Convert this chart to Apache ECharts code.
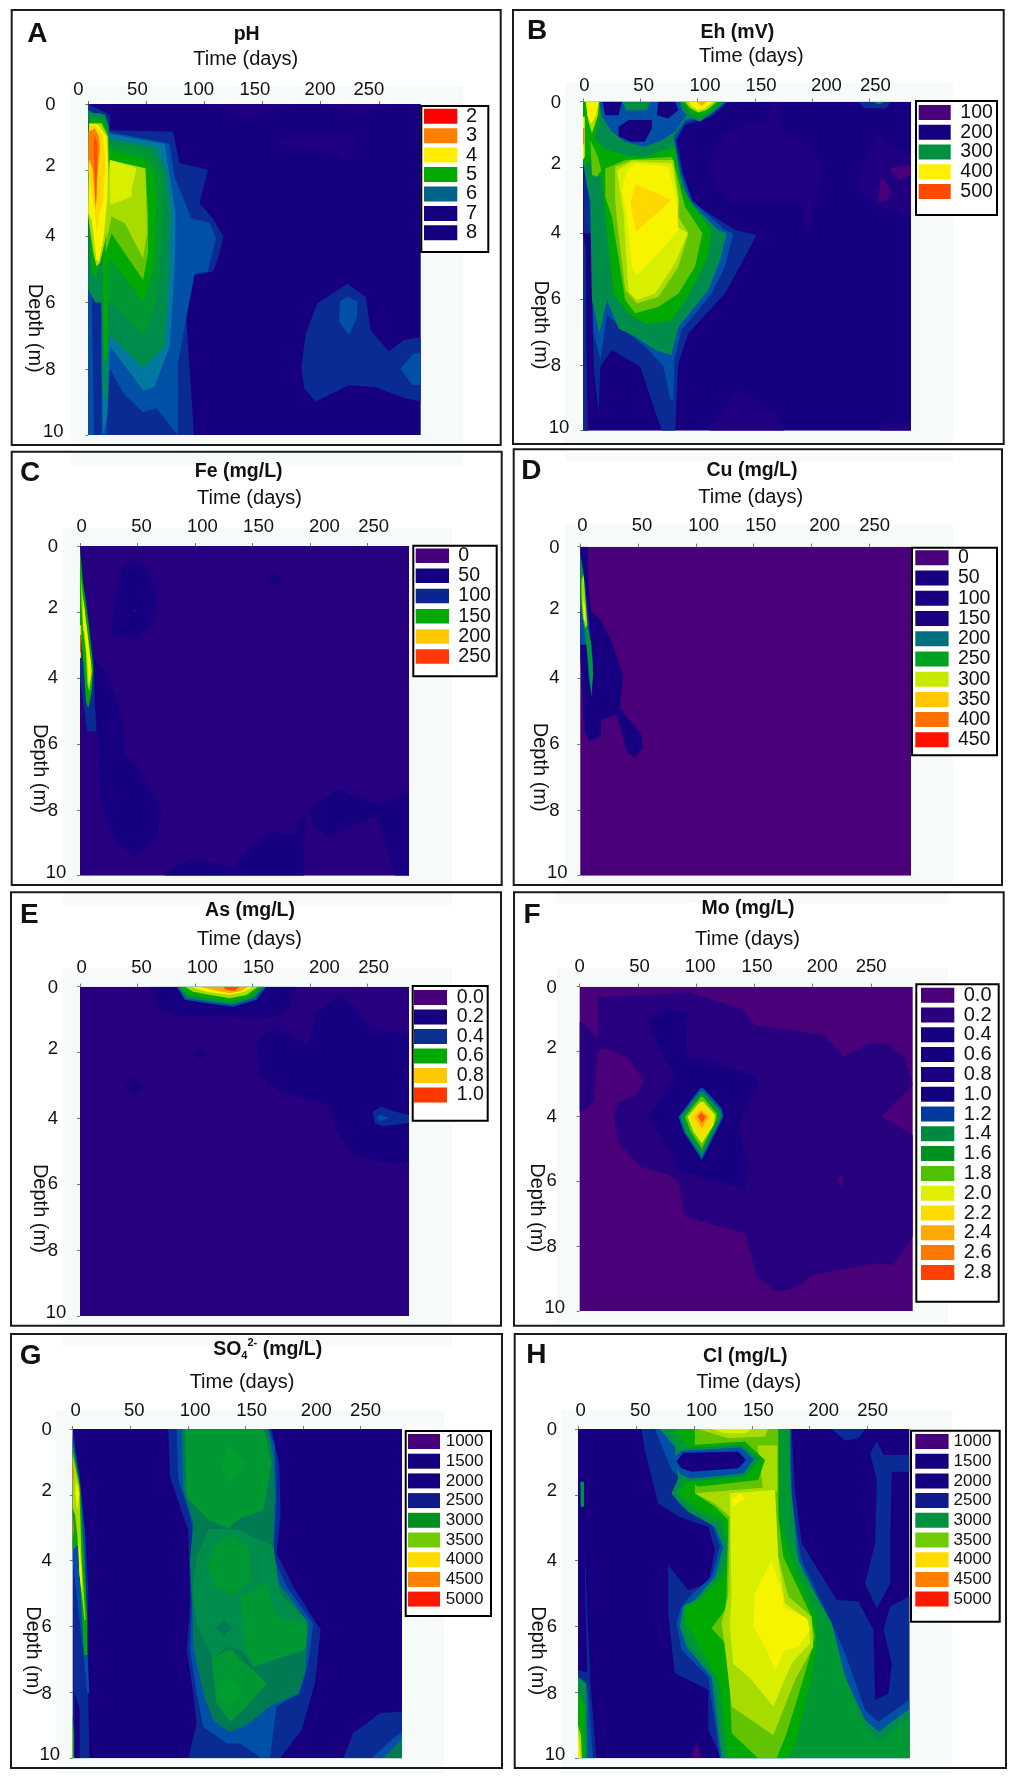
<!DOCTYPE html>
<html><head><meta charset="utf-8">
<script src="https://cdn.jsdelivr.net/npm/echarts@6/dist/echarts.min.js"></script>
<style>html,body{margin:0;padding:0;background:#fff}#c{width:1024px;height:1785px}</style>
</head><body><div id="c"></div>
<script>
// ---------- shared axis values ----------
const timeTicks = [0, 50, 100, 150, 200, 250];
const depthTicks = [0, 2, 4, 6, 8, 10];
const timeMax = 286;
const whole = [[0,0],[286,0],[286,10],[0,10]];

// ---------- legend labels ----------
const phLegend = ['2','3','4','5','6','7','8'];
const ehLegend = ['100','200','300','400','500'];
const feLegend = ['0','50','100','150','200','250'];
const cuLegend = ['0','50','100','150','200','250','300','350','400','450'];
const asLegend = ['0.0','0.2','0.4','0.6','0.8','1.0'];
const moLegend = ['0.0','0.2','0.4','0.6','0.8','1.0','1.2','1.4','1.6','1.8','2.0','2.2','2.4','2.6','2.8'];
const so4Legend = ['1000','1500','2000','2500','3000','3500','4000','4500','5000'];
const clLegend = ['1000','1500','2000','2500','3000','3500','4000','4500','5000'];

// ---------- contour bands: [palette key, polygon, polygon...], each polygon as [time (days), depth (m)], outermost first ----------
const phContours = [
 ['navy', whole],
 ['haze', [[107,0],[136,.45],[170,.1],[172,0]], [[205,0],[225,.3],[240,.3],[255,0]], [[160,1.2],[175,.9],[230,.9],[225,1.7],[200,1.4]]],
 ['deep', [[0,0],[18.6,.33],[18.6,.79],[72.9,.84],[78.6,1.79],[102.9,1.99],[95.7,3],[107,3.45],[116.3,4],[111.4,4.71],[107,5.07],[91.4,5.17],[84.3,6.42],[87.1,7.94],[90.9,10],[0,10]],
   [[197.1,6.02],[222.9,5.44],[238.6,5.82],[242.9,6.83],[258.6,7.48],[271.4,7.13],[286,7.05],[286,8.99],[272.9,8.89],[247.1,8.56],[224.3,8.49],[195.7,8.99],[185.7,8.59],[183.4,7.94],[187.1,6.93]]],
 ['blue', [[17.1,.84],[70,1.19],[74.3,2.2],[88.6,3.45],[104.3,3.59],[110,4.06],[105.7,4.61],[102.9,5.07],[91.4,5.12],[77.1,7.83],[77.1,10],[58.6,9.19],[47.1,9.32],[30,8.74],[18.6,7.99],[15.7,10],[11.4,10],[11.4,3.91]],
   [[216.3,5.97],[222.9,5.82],[231.4,5.97],[231.4,6.43],[224.3,6.98],[215.7,6.58]], [[268.6,7.99],[280,7.53],[286,7.53],[286,8.49],[278.6,8.49]], [[0,4.9],[3,5.8],[5,10],[0,10]]],
 ['teal', [[17.1,.89],[65.7,1.21],[70.6,2.3],[74.9,3.3],[74.3,4.91],[70,7.33],[57.1,8.54],[47.1,8.66],[38.6,8.24],[18.6,7.33],[16.3,9.35],[12.9,10],[11.4,7.9],[11.4,3.91]]],
 ['sea', [[17.1,1.04],[57.1,1.29],[67.1,1.99],[70.9,3.3],[69.4,5.12],[65.7,7.33],[47.1,7.99],[20,7.03],[17.1,7.13],[15.7,8.74],[12.9,8.74],[11.4,4.91]],
   [[0,.18],[4.3,.28],[10,.28],[14.3,.33],[17.7,.68],[17.7,2.5],[17.1,6.93],[16.3,8.9],[13,8.9],[11.4,6],[6,6],[3,5.8],[0,5.6]]],
 ['forest', [[17.1,1.19],[52.9,1.44],[62.9,2.09],[64.9,3.3],[62,5.02],[56.3,6.32],[47.1,6.98],[20,5.97],[17.1,5.97],[14.3,6.93],[12.9,4.91]]],
 ['green', [[17.1,1.39],[47.1,1.64],[57.1,2.15],[58.6,3.3],[56.3,4.91],[47.1,5.97],[20,4.71],[17.1,4.81],[14.3,5.92],[12.9,3.91]],
   [[1.4,.44],[12.9,.48],[17.1,.89],[17.1,3.1],[16.3,7.73],[13.4,7.73],[12.3,4.21],[7.1,5.22],[2.9,5.12],[0,3.3]]],
 ['leaf', [[18.6,1.69],[49.1,1.96],[51.4,3.3],[51.4,4.51],[47.1,5.32],[20,3.91],[15,4.5],[14.3,3]]],
 ['lime', [[18.6,1.69],[49.1,1.94],[50.6,3.91],[47.1,4.66],[31.4,3.6],[20,3.4],[15.7,4.11],[14.3,3]],
   [[.9,.58],[11.4,.58],[17.1,.99],[18,3.1],[14.3,4.16],[10,4.8],[7.1,4.9],[4.3,4.5],[0,3.4]]],
 ['chart', [[18.6,1.69],[41.4,1.94],[37.1,2.6],[37.1,2.8],[18.6,3.05]]],
 ['yellow', [[.9,.6],[8.6,.63],[15.7,.99],[17.1,1.89],[16.3,2.9],[12.9,4.1],[9.1,4.76],[7.1,4.71],[2.9,3.5],[0,3.3]]],
 ['gold', [[.9,.63],[7.1,.68],[12.9,.99],[14.9,1.69],[12.9,2.9],[9.4,3.3],[7.1,3.9],[5.7,3.3],[2,2.5],[0,2]]],
 ['orange', [[0,.84],[5.7,.74],[9,.99],[10,1.29],[7.5,2.3],[7,3],[6,3],[4,2],[0,1.6]]],
 ['flame', [[5.7,.95],[7.8,1.2],[7.2,2.4],[6.4,3.2],[5,1.7],[4.6,1.2]]]
];
const ehContours = [
 ['navy', whole],
 ['haze', [[107.8,1.98],[123.8,.96],[147,.61],[161.4,.61],[162.9,0],[170.1,0],[173,.86],[199.1,1.37],[209.3,2.08],[200.6,3.19],[197.7,4],[194.8,4],[190.4,3.09],[129.6,3.09],[118,2.58]],
   [[241.6,2.08],[257.1,.96],[265.8,1.27],[286,1.67],[286,3.5],[257.1,3.19],[239.9,2.64]], [[110.7,10],[135.4,8.76],[167.2,9.48],[175.9,10]], [[258.6,10],[258.6,9.83],[286,9.73],[286,10]]],
 ['violet', [[267.2,2.03],[286,1.93],[286,2.23],[276,2.38]], [[260,2.28],[268.7,2.68],[265.8,2.99],[257.1,3.04]], [[2,7.04],[5,10],[.6,10]]],
 ['deep', [[126.7,0],[112.2,.46],[89,.71],[81.7,1.17],[87.5,2.18],[96.2,3.09],[132.5,3.9],[151.3,4.05],[138.3,4.91],[123.8,5.83],[91.9,7.04],[83.2,7.95],[80.3,10],[68.7,10],[49.9,8.05],[25.2,7.55],[15.1,8.05],[13.6,9.47],[9.3,8.05],[6.4,4],[.6,4],[0,0]],
   [[239.7,0],[268.7,0],[264.3,.2],[245.2,.2]]],
 ['blue', [[125.2,0],[109.3,.46],[89,.61],[80.3,1.17],[86.1,2.18],[94.8,2.99],[123.8,3.9],[131,4],[123.8,5.02],[112.2,5.83],[86.1,6.94],[79.7,7.85],[78.8,9.07],[76.2,9.07],[70.1,8.05],[54.2,7.45],[20.9,6.48],[15.1,7.85],[9.3,7.04],[6.4,3.5],[0,0]]],
 ['sea', [[123.8,0],[112.2,.35],[89,.56],[78.8,1.06],[84.6,2.18],[91.9,2.99],[118,3.9],[125.2,4],[119.4,4.81],[109.3,5.72],[83.2,6.84],[76.8,7.7],[62.9,7.55],[45.5,7.14],[31,6.89],[20.9,6.03],[14.2,7.04],[7.8,6.03],[6.4,3],[3,2.5],[0,1.8],[0,0]],
   [[252.8,0],[262.9,0],[258.6,.08]]],
 ['green', [[9.3,1.06],[18,1.42],[36.8,1.62],[54.2,1.67],[74.5,1.42],[80.3,1.37],[86.1,2.58],[94.8,3.09],[112.2,3.95],[107.8,4.81],[91.9,5.88],[77.4,6.64],[54.2,6.76],[39.7,6.43],[26.7,5.83],[19.4,3.5],[16.5,2.28],[9.3,2.18]],
   [[0,0],[14.2,0],[15.1,.41],[10.7,1.06],[6.4,1.77],[.6,1.98]]],
 ['leaf', [[19.4,2.03],[36.8,1.77],[77.4,1.67],[81.7,2.18],[89,3.19],[104.1,4],[97.7,5.02],[83.2,5.83],[65.8,6.23],[45.5,6.43],[36.8,6.03],[25.2,3.5],[19.4,2.89]],
   [[6.4,1.17],[13,1.67],[15.9,2.08],[12.2,2.28],[7.8,2.23]]],
 ['lime', [[28.1,1.98],[42.6,1.77],[78.8,1.77],[83.2,2.89],[83.2,3.5],[91.9,4],[83.2,5.02],[65.8,5.93],[47,6.13],[36.8,5.72],[29.6,3.6],[28.1,2.99]],
   [[2.6,0],[14.2,0],[13,.41],[7.8,.96],[4.3,.56]]],
 ['chart', [[29.6,2.08],[42.6,1.82],[77.4,1.87],[83.2,2.99],[82.3,3.8],[91.3,4],[80.3,4.91],[62.9,5.83],[47,6.03],[39.7,5.78],[35.4,3.4]]],
 ['yellow', [[38.3,2.08],[47,1.87],[74.5,1.98],[81.7,3.09],[83.2,3.9],[65.8,4.61],[47,5.27],[42.6,5.02],[38.3,3.5],[33.9,2.68]],
   [[2.6,0],[13.6,0],[11.3,.41],[7.2,.68],[3.8,.41]], [[0,.46],[1.5,.46],[1.5,1.67],[0,1.77]]],
 ['gold', [[45.5,2.5],[77.4,2.99],[46.1,3.95],[41.2,3.09]]],
 ['orange', [[0,.8],[1.3,.8],[1.3,1.3],[0,1.3]]],
 ['blue', [[14.2,0],[85.8,0],[90.4,.41],[80.3,.91],[68.7,1.17],[52.8,1.37],[36.8,1.22],[25.2,.91],[16.5,.46]]],
 ['sea', [[33.9,0],[58.6,0],[55.7,.25],[38.3,.27]]],
 ['navy', [[17.1,0],[33.9,0],[31,.41],[19.4,.41]], [[65.8,0],[80.3,0],[83.2,.25],[74.5,.51],[64.3,.41]], [[31,.76],[39.9,.56],[60,.56],[60,.81],[53.8,1.22],[42.3,1.22],[31,1.06]]],
 ['deep', [[0,4],[2.5,4.5],[3.5,10],[0,10]]],
 ['sea', [[84.6,0],[122.3,0],[112.2,.35],[102,.61],[91.9,.46],[86.1,.25]]],
 ['green', [[86.7,0],[119.4,0],[109.3,.35],[102,.46],[93.3,.35]]],
 ['lime', [[89,0],[116.6,0],[107.8,.25],[100.6,.33],[93.3,.2]]],
 ['yellow', [[92.2,0],[113.6,0],[106.4,.2],[100.6,.25],[94.9,.15]]],
 ['amber', [[99.1,0],[107.8,0],[103.5,.13]]]
];
const feContours = [
 ['indigo', whole],
 ['navy', [[28.9,1.79],[36.2,.63],[46.3,.47],[57.9,.68],[66.6,1.29],[63.7,2.39],[46.3,2.8],[27.5,2.7]], [[162,1.03],[167.8,.8],[175.9,1.03],[167.8,1.23]],
   [[0,3],[11.6,3.4],[23.1,3.81],[34.7,4.92],[39.9,6.33],[55,6.94],[71,8.05],[66,8.86],[47.7,9.47],[30.4,8.96],[17.4,7.75],[15.9,5.63],[6.4,5.63],[0,4.01]],
   [[79.6,9.77],[96.9,9.46],[133.1,9.77],[150.5,8.96],[169.3,8.66],[185.2,8.76],[196.2,8.05],[194.4,10],[73.5,10]],
   [[198.2,8],[224.3,7.39],[260.4,7.85],[286,7.44],[286,10],[273.6,10],[257.5,8.2],[215.6,8.81],[204,8.5]]],
 ['deep', [[0,0],[1.4,.98],[5.8,1.69],[11.6,3.4],[13,4.82],[14.5,5.63],[6.4,5.63],[0,4.01]], [[47,1.9],[48,1.96],[47,2.05],[46.5,1.96]]],
 ['green', [[0,.07],[2.9,1.18],[7.2,2.29],[11.6,3.71],[10.1,4.41],[7.2,4.92],[5.2,4.72],[3,3.6],[1.5,3],[0,2.5]]],
 ['lime', [[.5,.9],[2.3,1.48],[6.4,2.6],[10.4,3.81],[8.1,4.41],[6.5,4.2],[5,3.2],[3,2.6],[1.5,1.9]]],
 ['yellow', [[3,1.6],[5,2.29],[9.3,3.5],[9.3,4.01],[7.5,4.2],[6.3,3.4],[4,2.6],[2.8,2]]],
 ['gold', [[2.5,1.7],[4,2.19],[3.5,2.6],[2.5,2.5]], [[0,2.4],[1,2.4],[1,3.4],[0,3.4]]],
 ['flame', [[0,2.7],[.9,2.7],[.9,3.2],[0,3.25]]]
];
const cuContours = [
 ['violet', whole],
 ['navy', [[0,0],[6.6,0],[6.6,.96],[9.5,1.97],[17.6,2.22],[26.9,2.88],[37,3.89],[34.1,4.9],[52.9,5.71],[54.3,6.11],[47,6.43],[39.9,6.21],[31.2,5.1],[18.2,5.25],[17.6,5.76],[8.1,5.91],[3.8,5.66],[0,3.39]]],
 ['blue', [[0,.15],[4.3,1.16],[8.1,2.58],[11,3.48],[10.1,4.6],[7.2,3.99],[5.2,2.98],[0,2.98]]],
 ['forest', [[0,.25],[3.2,.96],[5.2,2.27],[9.5,2.98],[11,3.89],[9.5,4.49],[6.6,3.38],[4.3,2.68],[0,1.77]]],
 ['lime', [[1,1],[2.9,.86],[4.3,1.57],[6.1,2.37],[4.3,2.47],[2,2],[1,1.5]]],
 ['yellow', [[2.3,1.57],[4.3,1.87],[4.3,2.27],[2.9,2.22]]]
];
const asContours = [
 ['indigo', whole],
 ['navy', [[60.8,0],[188,0],[182.3,.61],[167.8,.94],[81,.88],[68,.66]],
   [[153.4,1.67],[169.3,1.21],[198.2,1.77],[205.4,.76],[225.7,.25],[241.6,.66],[250.3,1.16],[263.3,1.36],[286,1.41],[286,5.35],[263.3,5.35],[238.7,5.15],[222.8,4.39],[215.6,3.59],[173.6,3.18],[156.3,2.68]],
   [[39.1,3.03],[46.3,2.73],[55,3.03],[46.3,3.35]], [[99.2,2.04],[104.2,1.87],[110,2.04],[104.2,2.22]]],
 ['deep', [[254.6,3.79],[261.9,3.64],[273.4,3.79],[286,3.89],[286,4.14],[263.3,4.24],[256,4.14]]],
 ['blue', [[83.9,0],[162,0],[153.4,.4],[133.1,.61],[110,.5],[91.1,.4]], [[257.5,3.99],[260.4,3.89],[269.1,3.99],[260.4,4.09]]],
 ['sea', [[85.4,0],[160.6,0],[150.5,.35],[133.1,.54],[111.4,.45],[92.6,.35]]],
 ['green', [[86.8,0],[157.7,0],[147.6,.35],[130.2,.45],[111.4,.35],[94,.25]]],
 ['lime', [[91.1,0],[154.8,0],[144.7,.25],[130.2,.35],[110,.23],[98.4,.15]]],
 ['yellow', [[96.9,0],[150.5,0],[143.2,.15],[130.2,.25],[110,.15],[101.3,.07]]],
 ['amber', [[104.2,0],[146.1,0],[140.3,.13],[130.2,.2],[115.7,.1]]],
 ['flame', [[124.4,0],[138.9,0],[134.5,.13],[127.3,.1]]]
];
const moContours = [
 ['violet', whole],
 ['indigo', [[15.7,.31],[50.6,.26],[93.4,.17],[119.1,.46],[139.1,.67],[150.6,1.18],[210.6,1.49],[226.3,2.16],[247.7,1.75],[264.9,1.75],[279.1,2.21],[286,3.03],[259.1,4.01],[286,4.57],[286,7.71],[269.1,8.58],[254.9,8.53],[199.1,8.89],[187.7,9.25],[169.1,9.42],[152,8.94],[142,7.61],[90.6,7.09],[84.9,6.01],[76.3,5.81],[52,5.55],[33.4,4.83],[29.1,3.96],[33.4,3.55],[47.7,3.34],[54.9,2.93],[42,2.21],[22,1.9],[15.7,1.95],[12,3.55],[3.4,3.85],[0,3.85],[0,1.08],[4.9,1.18],[15.7,1.64]]],
 ['violet', [[222,5.96],[225,5.8],[226.5,5.96],[225,6.2]]],
 ['navy', [[59.1,.98],[76.3,.67],[92,.82],[90.6,2.16],[104.9,2.21],[149.1,2.72],[153.4,3.03],[136.2,4.27],[143.4,5.4],[142,6.27],[124.9,6.06],[84.9,5.7],[76.3,4.98],[59.1,4.01],[82,2.72],[67.7,1.89]]],
 ['blue', [[84.9,4.01],[103.4,3.13],[106.3,3.13],[122,3.75],[123.4,4.01],[104.9,5.34],[89.1,4.47]]],
 ['sea', [[86.3,4.01],[103.4,3.24],[106.3,3.24],[120.6,3.8],[122,4.01],[104.9,5.24],[90.6,4.47]]],
 ['forest', [[88,4.01],[104,3.3],[105.5,3.3],[120,3.85],[120.5,4.01],[104.9,5.15],[91,4.5]]],
 ['leaf', [[90.5,4.01],[103.8,3.4],[105.8,3.4],[117.5,3.9],[118,4.05],[104.9,5],[95,4.45]]],
 ['chart', [[92.6,4.01],[103.4,3.55],[106.3,3.55],[116.3,3.96],[114.9,4.27],[104.9,4.83],[97.7,4.47]]],
 ['gold', [[94.9,4.01],[103.4,3.65],[106.3,3.65],[113.4,3.96],[112.9,4.21],[104.9,4.62],[99.1,4.31]]],
 ['amber', [[99.1,4.01],[104.3,3.8],[110.6,4.01],[104.9,4.37]]],
 ['flame', [[101.4,4.01],[104.3,3.88],[108.3,4.01],[104.9,4.21]]]
];
const so4Contours = [
 ['navy', whole],
 ['deep', [[83,0],[84.5,1.45],[96.1,2.66],[100.4,3.07],[101.9,5.39],[99,6.71],[104.7,8.03],[107.6,8.94],[100.4,10],[180,10],[198.8,9.14],[210.4,7.72],[215.3,6.1],[191.6,4.79],[177.1,3.78],[180.6,2.66],[179.4,1.04],[172.7,0]],
   [[235,10],[243.6,9.24],[266.8,8.63],[286,8.58],[286,10]], [[0,0],[2,.44],[6.4,1.85],[10.7,3.07],[13.6,4.88],[12.7,6.81],[14.5,10],[.6,10]]],
 ['navy', [[1.5,8],[6,8.5],[6,10],[1.5,10]]],
 ['blue', [[90.3,0],[91.7,1.55],[100.4,2.46],[104.7,3.07],[101.9,4.08],[103.3,5.39],[101.9,6.71],[107.6,8.03],[113.4,9.04],[133.7,9.55],[145.3,9.55],[164,10],[171.2,10],[177.1,8.43],[197.4,8.03],[204.6,7.12],[209,5.9],[185.8,4.79],[174.3,3.88],[177.1,1.98],[175.7,.53],[170.2,0]],
   [[259.5,10],[278.4,9.39],[286,9.19],[286,10]], [[0,.23],[6.4,1.55],[10.7,3.27],[12.7,6.61],[14.5,8.03],[12.7,8.03],[9.3,6.81],[0,4]]],
 ['dark', [[94.6,0],[96.1,1.85],[104.7,2.86],[101.9,3.97],[104.2,5.6],[104.7,6.61],[113.4,8.03],[122,8.84],[136.5,9.2],[152.5,8.95],[171.2,8.43],[195.9,8.03],[201.7,7.42],[204.6,5.9],[185.8,4.98],[173.2,4.48],[174.3,3.47],[175.7,1.85],[174.3,.84],[170,0]],
   [[269.7,10],[281.3,9.59],[286,9.39],[286,10]]],
 ['sea', [[117.8,3.04],[142.4,3.04],[174.3,3.56],[180,4.98],[203.1,5.8],[201.7,6.71],[156.9,7.22],[146.5,6.71],[133.7,6.61],[122,7.02],[107.6,5.9],[104.2,4.88],[107.6,3.87]]],
 ['forest', [[97.5,0],[99,2.05],[117.8,2.76],[135.1,3.02],[145.3,2.71],[165.5,2.46],[172.7,1.04],[168.5,.33],[165.5,0]],
   [[136.6,3.17],[152.5,3.57],[155.4,4.59],[139.5,5.04],[122,4.79],[117.8,4.18],[122,3.57]],
   [[145.3,5.09],[168.4,4.64],[177.1,5.7],[203.1,5.9],[202.5,6.66],[156.9,7.22],[149.6,6.61]],
   [[136.6,6.66],[149.6,7.12],[156.9,7.32],[168.4,7.72],[151,8.43],[136.6,8.89],[125,8.33],[120.7,7.01]]],
 ['moss', [[135.1,.49],[149.6,1.04],[136.6,1.65],[128,1.21]], [[136.6,7.52],[146.7,8.03],[136.6,8.43],[125,8.03]]],
 ['dark', [[124.4,6.03],[131.4,5.8],[138,6.01],[131.4,6.29]]],
 ['green', [[0,.44],[6.4,1.75],[9.3,3.57],[12.7,5.8],[12.7,6.86],[10,6.86],[7,5],[5,3.5],[0,3.67]], [[0,8.64],[1.2,9.34],[1.2,10],[0,10]]],
 ['lime', [[0,.74],[5.8,1.75],[7.8,4.08],[11.2,5.8],[10.3,5.8],[6,4.4],[4,3.2],[2,2.6],[0,2.4]]],
 ['yellow', [[2.9,1.55],[5.8,1.95],[4.05,2.46],[2.3,1.95]], [[4.9,3.27],[7.8,4.28],[7.8,4.99],[5.8,4.38]]],
 ['orange', [[0,.74],[1,1.35],[0,1.85]], [[0,2.6],[1,3],[0,3.4]]]
];
const clContours = [
 ['navy', whole],
 ['violet', [[98,10],[102.3,9.49],[106.6,10]]],
 ['deep', [[54.8,0],[57.6,.64],[69.2,2.26],[86.5,2.66],[112.4,2.97],[118.2,3.67],[112.4,4.69],[95.1,4.89],[77.8,4.13],[77.8,5.6],[83.6,7.42],[112.4,7.92],[112.4,9.14],[123.9,10],[286,10],[286,5.09],[269.5,5.39],[263.7,6.1],[270.9,7.12],[268,8.03],[256.5,8.23],[255,6.1],[242.1,5.24],[223.3,5.19],[193.1,3.47],[187.3,1.85],[184.4,0]],
   [[219,0],[247.8,0],[242.1,.28],[230.6,.35]],
   [[252.2,.74],[257.9,.38],[263.7,.79],[286,.79],[286,1.3],[270.9,1.3],[269.5,3.47],[269.5,4.69],[257.9,5.45],[247.8,4.69],[256.5,3.47],[257.9,1.55]],
   [[0,7.32],[10,7.42],[15.9,10],[0,10]], [[5.8,3.57],[8.6,6.1],[10.7,7.42],[8.1,7.42],[6.3,5.09]]],
 ['blue', [[66.3,0],[80.7,1.24],[89.3,1.55],[80.7,1.96],[89.3,2.36],[115.3,2.86],[122.5,3.56],[115.3,4.48],[96.5,5.09],[89.3,5.39],[85,5.9],[89.3,6.71],[112.4,7.52],[122.5,10],[286,10],[286,8.23],[259.4,8.89],[247.9,8.54],[230.6,6.81],[219,5.9],[193.1,3.98],[189.6,3.27],[184.4,2.06],[183.8,0]],
   [[0,7.92],[8.6,7.92],[12.97,10],[0,10]]],
 ['sea', [[70.6,0],[83.6,.54],[86.5,1.49],[80.7,1.96],[95.1,2.51],[118.2,2.97],[125.4,3.58],[118.2,4.48],[100.9,5.19],[90.8,5.39],[87.9,6],[93.7,6.61],[115.3,7.52],[123.9,10],[286,10],[286,8.5],[259.4,9.2],[247.9,8.84],[227.7,7.32],[214.7,5.7],[190.2,3.98],[184.4,1.96],[181.6,0]],
   [[0,7.52],[7.2,7.72],[8.1,10],[0,10]], [[2,1.6],[5.2,1.6],[5.2,2.36],[2.3,2.36]]],
 ['forest', [[76.1,0],[86.5,.54],[89.3,1.6],[83.6,1.96],[98,2.46],[121,2.87],[129.7,3.58],[121,4.48],[103.7,5.19],[92.2,5.34],[90.8,5.9],[95.1,6.51],[118.2,7.52],[126.8,10],[286,10],[286,8.78],[259.4,9.5],[247.9,9.09],[230.6,7.52],[219,5.9],[193.1,4.28],[183,3.06],[183,0]]],
 ['green', [[83,0],[95.1,.49],[93.7,1.55],[87.9,1.96],[100.9,2.36],[123.9,2.77],[130.2,3.48],[126.8,4.39],[108,5.09],[92.2,5.5],[93.7,5.9],[106.6,6.71],[122.5,7.72],[129.7,10],[181.6,10],[190.2,9.24],[200.3,7.72],[206,6.61],[205.2,5.7],[184.4,3.98],[174.3,2.87],[172.9,0]],
   [[0,8],[6,8.4],[6,10],[0,10]]],
 ['leaf', [[100.9,0],[172.9,0],[172.9,2.66],[177.2,3.88],[200.3,5.6],[204.6,6.31],[196,7.42],[180.1,9.24],[171.5,10],[155.6,10],[132.6,9.24],[129.7,6.61],[115.3,6.05],[126.8,5.5],[128.2,5.09],[129.7,2.76],[118.2,2.36],[100.9,1.95]]],
 ['lime', [[103.7,0],[164.2,0],[161.4,.23],[129.7,.28]], [[155,.5],[172,.5],[172,1.9],[160,1.9]],
   [[100.9,1.95],[170,1.75],[172.9,3.88],[181.6,5.09],[201.7,5.7],[203.1,6.61],[187.3,7.62],[168.6,9.3],[132.6,8.43],[126.8,6.61],[123.9,5.9],[129.7,5.09],[131.1,2.67],[118.2,2.27]],
   [[0,9],[2.5,9.3],[3.5,10],[0,10]]],
 ['chart', [[115.3,0],[149.9,0],[144,.13],[126.8,.13]],
   [[131.1,1.95],[170,1.85],[172.9,3.98],[178.7,5.3],[198.8,5.8],[200.3,6.51],[184.4,7.12],[168.6,8.43],[149.9,7.62],[134,7.12],[131.1,6],[132.5,5.09]]],
 ['yellow', [[167.1,3.98],[177.2,5.09],[177.2,5.4],[197.3,5.75],[200.3,6.1],[190.2,6.61],[178.7,6.71],[170,7.32],[161.4,6.61],[151.3,6],[152.7,4.99]],
   [[132.6,2.16],[139.8,1.95],[144.1,2.11],[134,2.36]], [[0,9.2],[1,9.5],[2.2,10],[0,10]]],
 ['green', [[95.1,.49],[144,.38],[161.4,.94],[155.6,1.55],[103.7,1.75],[92.2,1.44]]],
 ['sea', [[82.1,1],[88,.59],[141.2,.49],[157,.89],[144,1.44],[95.1,1.6],[88,1.44]]],
 ['blue', [[80.1,.99],[89.3,.66],[141.2,.56],[151.6,.92],[142.7,1.35],[98,1.5],[89.3,1.4]]],
 ['navy', [[85,.99],[90.8,.72],[138.3,.69],[145,.94],[138.3,1.19],[98,1.3],[89.3,1.19]]]
];

// ---------- styles ----------
const palette = {violet:'#4a0078', indigo:'#27007f', haze:'#200080', navy:'#170080', deep:'#0a2a94', blue:'#0050a8', teal:'#0078a0',
  dark:'#007a52', sea:'#008c4a', forest:'#009832', moss:'#00a030', green:'#00aa00', leaf:'#62c400', lime:'#a8dc00', chart:'#d8f000', yellow:'#f8f400',
  gold:'#ffd800', amber:'#ffa800', orange:'#ff8000', flame:'#ff5000'};
const phLegendColors = ['#ff0000','#ff8000','#ffee00','#00aa00','#006488','#16007f','#12007f'];
const ehLegendColors = ['#4a0078','#14007f','#009040','#fff000','#ff4800'];
const feLegendColors = ['#46007a','#17007f','#0a2490','#00aa00','#ffc800','#ff3800'];
const cuLegendColors = ['#4a0078','#17007f','#1a0080','#1a0080','#007080','#00a020','#c8e800','#ffc800','#ff7000','#ff1000'];
const asLegendColors = ['#46007a','#17007f','#0a3090','#00aa00','#ffc800','#ff3800'];
const moLegendColors = ['#4a0078','#2a007f','#14007f','#14007f','#1a0080','#12007f','#003a9c','#008840','#009020','#50c000','#e0f000','#ffdc00','#ffaa00','#ff7800','#ff4000'];
const so4LegendColors = ['#46007a','#14007f','#14007f','#101a8a','#009020','#70cc00','#ffdc00','#ff8000','#ff1800'];
const clLegendColors = ['#46007a','#14007f','#14007f','#101a8a','#009040','#70cc00','#ffdc00','#ff8000','#ff1800'];

const FONT = '"Liberation Sans", Arial, sans-serif';
const panels = [
 {id:'A', title:'pH', layers:phContours, legend:phLegend, colors:phLegendColors, frame:[11.7,10,500.7,445], pale:[71,86,463.3,443], grid:[88.3,104,420.7,435],
  letter:[37.3,34], titleAt:[246.7,34.3], xShift:[-10,-9,-6,-7.7,-0.7,-10], xGap:14, timeGap:44.5, timeDx:-8.8, yGap:38, depthGap:54, depthDy:58.8,
  box:[421.3,106,488.3,250.7], sw:[424,107.3,33.3,15,19.44], textGap:8.7, fs:20, drop:2.7},
 {id:'B', title:'Eh (mV)', layers:ehContours, legend:ehLegend, colors:ehLegendColors, frame:[513,10,1003.7,444], pale:[565.3,83,953,443], grid:[583,101.7,911,430.7],
  letter:[537,31.7], titleAt:[737.3,32.2], xShift:[1.3,3.3,7.3,6,14,5.7], xGap:16, timeGap:45.2, timeDx:4.3, yGap:27, depthGap:42.7, depthDy:58.8,
  box:[916,101,997,215], sw:[918.7,105,32,15,19.75], textGap:9.6, fs:19.5, drop:4},
 {id:'C', title:'Fe (mg/L)', layers:feContours, legend:feLegend, colors:feLegendColors, frame:[11.7,451.7,501.7,885], pale:[63.3,528.3,452,885], strip:[71,453,463,465], grid:[80,546,409,875.7],
  letter:[30,473.3], titleAt:[238.7,471.7], xShift:[1.7,4,7.3,6,14.3,6], xGap:19, timeGap:47.5, timeDx:5, yGap:27, depthGap:40.7, depthDy:57.5,
  box:[413.3,545.7,496.7,672.3], sw:[415.7,547.3,33.3,14.5,19.67], textGap:9.3, fs:19.5, drop:1.6},
 {id:'D', title:'Cu (mg/L)', layers:cuContours, legend:cuLegend, colors:cuLegendColors, frame:[513.7,449.3,1002,885], pale:[565,525,953,884], strip:[565,453,953,461], grid:[580.3,546.7,911,875.7],
  letter:[531.3,471], titleAt:[752,470.3], xShift:[2,4,7.7,7,13,5.3], xGap:21, timeGap:49.2, timeDx:5, yGap:26, depthGap:40.7, depthDy:56,
  box:[912,547.7,997,749.3], sw:[915.3,549,33.3,15,19.74], textGap:9.3, fs:19.5, drop:1.3},
 {id:'E', title:'As (mg/L)', layers:asContours, legend:asLegend, colors:asLegendColors, frame:[11,892.3,501,1325.7], pale:[63.3,968,452,1325], strip:[63,893,452,905], grid:[80,986.7,409,1316],
  letter:[29.3,915], titleAt:[250,910.3], xShift:[1.7,4,7.3,6,14.3,6], xGap:19, timeGap:47.5, timeDx:5, yGap:27, depthGap:40.7, depthDy:57,
  box:[412.7,986,487.7,1120.7], sw:[414,990,33,15,19.5], textGap:9.7, fs:19.5, drop:4},
 {id:'F', title:'Mo (mg/L)', layers:moContours, legend:moLegend, colors:moLegendColors, frame:[514,892.3,1003.7,1325.7], pale:[557,968,948,1323], strip:[557,893,947,903], grid:[579.7,986.7,912.7,1311],
  letter:[532,915], titleAt:[748,908.3], xShift:[0,1.7,4,2.7,9.7,.3], xGap:20, timeGap:47.5, timeDx:1.3, yGap:28, depthGap:42.7, depthDy:58.8,
  box:[916.3,984.3,998.7,1301.7], sw:[921,987.7,33.3,15,19.8], textGap:9.4, fs:20, drop:3.4},
 {id:'G', title:'{m|SO}{s|4}{u|2-}{m| (mg/L)}', layers:so4Contours, legend:so4Legend, colors:so4LegendColors, frame:[11,1334,502,1768], pale:[56,1410.7,444,1773], strip:[63,1336,452,1346], grid:[72.7,1429,402,1758.3],
  letter:[30.7,1356.7], titleAt:[267.7,1349.3], xShift:[3,4,7.3,6.3,13.3,5], xGap:18, timeGap:47, timeDx:4.7, yGap:26, depthGap:40.3, depthDy:57,
  box:[405.7,1431,491,1616], sw:[408,1434,32,15,19.7], textGap:5.7, fs:17, drop:3},
 {id:'H', title:'Cl (mg/L)', layers:clContours, legend:clLegend, colors:clLegendColors, frame:[514.7,1334,1006,1768], pale:[561,1410.7,952,1773], grid:[578,1429,909.3,1758.3],
  letter:[536.3,1355], titleAt:[745.3,1357], xShift:[2.7,4.3,7.7,6.7,14,5], xGap:18, timeGap:47, timeDx:5, yGap:26, depthGap:40.7, depthDy:57,
  box:[911,1430.7,999.7,1621.7], sw:[915.3,1434,33.3,15,19.7], textGap:5, fs:17, drop:2.3}
];
const yShift = [1, -4, 0, 0, 1, -3];

const measure = document.createElement('canvas').getContext('2d');
function textWidth(s, fs){ measure.font = fs + 'px "Liberation Sans"'; return measure.measureText(s).width; }

const option = {animation:false, backgroundColor:'#fff', grid:[], xAxis:[], yAxis:[], series:[], legend:[], title:[], graphic:[]};

panels.forEach((p, k) => {
  const [gl, gt, gr, gb] = p.grid;
  option.grid.push({left:gl, top:gt, width:gr-gl, height:gb-gt, containLabel:false, show:false});

  const xRich = {};
  timeTicks.forEach((t, i) => { const s = p.xShift[i];
    xRich['t'+i] = {fontSize:18.5, fontFamily:FONT, color:'#111', padding:[0, s<0?-2*s:0, 0, s>0?2*s:0]}; });
  option.xAxis.push({type:'value', gridIndex:k, position:'top', min:0, max:timeMax, interval:50,
    name:'Time (days)', nameLocation:'middle', nameGap:p.timeGap, nameMoveOverlap:false,
    nameTextStyle:{fontFamily:FONT, fontSize:20, color:'#111', align:'center', verticalAlign:'middle',
      padding:[0, p.timeDx<0?-2*p.timeDx:0, 0, p.timeDx>0?2*p.timeDx:0]},
    axisLine:{show:false}, splitLine:{show:false},
    axisTick:{show:true, length:3, customValues:timeTicks, lineStyle:{color:'#777', width:1}},
    axisLabel:{customValues:timeTicks, margin:p.xGap, verticalAlign:'middle', rich:xRich,
      formatter:(v)=>`{t${timeTicks.indexOf(v)}|${v}}`}});

  const yRich = {};
  depthTicks.forEach((d, i) => { const s = yShift[i]; const sx = d===10 ? 3 : 0;
    yRich['d'+i] = {fontSize:18.5, fontFamily:FONT, color:'#111', padding:[s>0?2*s:0, 0, s<0?-2*s:0, 2*sx]}; });
  option.yAxis.push({type:'value', gridIndex:k, inverse:true, min:0, max:10, interval:2,
    name:'Depth (m)', nameLocation:'middle', nameGap:p.depthGap, nameRotate:-90, nameMoveOverlap:false,
    nameTextStyle:{fontFamily:FONT, fontSize:20, color:'#111', align:'center', verticalAlign:'middle', padding:[0,0,0,2*p.depthDy]},
    axisLine:{show:false}, splitLine:{show:false},
    axisTick:{show:true, length:3, lineStyle:{color:'#777', width:1}},
    axisLabel:{margin:p.yGap, align:'center', rich:yRich,
      formatter:(v)=>`{d${depthTicks.indexOf(v)}|${v}}`}});

  p.layers.forEach((layer, li) => {
    const polys = layer.slice(1);
    const fill = palette[layer[0]];
    option.series.push({type:'custom', name:`${p.id}-band-${li}`, coordinateSystem:'cartesian2d', xAxisIndex:k, yAxisIndex:k,
      silent:true, clip:true, itemStyle:{color:fill}, encode:{x:0, y:1}, data:polys.map(poly=>poly[0]),
      renderItem:(params, api)=>({type:'polygon',
        shape:{points:polys[params.dataIndex].map(pt=>api.coord(pt))},
        style:{fill:fill}})});
  });

  // legend entries
  const names = p.legend.map(l => `${p.id}|${l}`);
  names.forEach((n, i) => option.series.push({type:'custom', name:n, coordinateSystem:'cartesian2d', xAxisIndex:k, yAxisIndex:k,
    silent:true, itemStyle:{color:p.colors[i]}, data:[], renderItem:()=>null}));
  const [sx, sy, sw, sh, pitch] = p.sw;
  const [bl, bt, br, bb] = p.box;
  const T = Math.max(Math.min(2*p.drop, 8), p.fs - sh);
  const maxW = Math.max(...p.legend.map(l=>textWidth(l, p.fs)));
  const n = p.legend.length;
  const padTop = Math.max(0, sy - T/2 - bt);
  const padBottom = Math.max(0, bb - (sy + (n-1)*pitch + sh + T/2));
  const padLeft = Math.max(0, sx - bl);
  const padRight = Math.max(0, br - (sx + sw + p.textGap + maxW));
  option.legend.push({orient:'vertical', left:bl, top:bt, selectedMode:false, align:'left', icon:'rect',
    itemWidth:sw, itemHeight:sh, itemGap:pitch-sh-T, padding:[padTop, padRight, padBottom, padLeft],
    borderColor:'#000', borderWidth:2, backgroundColor:'#fff',
    textStyle:{fontFamily:FONT, fontSize:p.fs, color:'#111', lineHeight:sh, padding:[T, 0, 0, p.textGap-5]},
    formatter:(name)=>name.split('|')[1],
    data:names.map((name, i)=>({name, icon:'rect', itemStyle:{color:p.colors[i], borderWidth:0}}))});

  // panel letter and title
  option.title.push({text:p.id, left:p.letter[0], top:p.letter[1], padding:0, textAlign:'center', textVerticalAlign:'middle',
    textStyle:{fontFamily:FONT, fontWeight:'bold', fontSize:28, color:'#111'}});
  option.title.push({text:p.title, left:p.titleAt[0], top:p.titleAt[1], padding:0, textAlign:'center', textVerticalAlign:'middle',
    textStyle:{fontFamily:FONT, fontWeight:'bold', fontSize:19.5, color:'#111',
      rich:{m:{fontFamily:FONT, fontWeight:'bold', fontSize:19.5, color:'#111', lineHeight:24},
            s:{fontFamily:FONT, fontWeight:'bold', fontSize:11, color:'#111', lineHeight:24, verticalAlign:'bottom'},
            u:{fontFamily:FONT, fontWeight:'bold', fontSize:11, color:'#111', lineHeight:24, verticalAlign:'top'}}}});

  // frame, pale backdrop
  const R = (r, style, z) => ({type:'rect', z:z, silent:true, shape:{x:r[0], y:r[1], width:r[2]-r[0], height:r[3]-r[1]}, style:style});
  option.graphic.push(R(p.pale, {fill:'#f6faf8'}, -5));
  if (p.strip) option.graphic.push(R(p.strip, {fill:'#f6faf8'}, -5));
  option.graphic.push(R(p.frame, {fill:'none', stroke:'#1a1a1a', lineWidth:2}, -1));
});

const chart = echarts.init(document.getElementById('c'), null, {renderer:'canvas', width:1024, height:1785});
chart.setOption(option);
</script></body></html>
